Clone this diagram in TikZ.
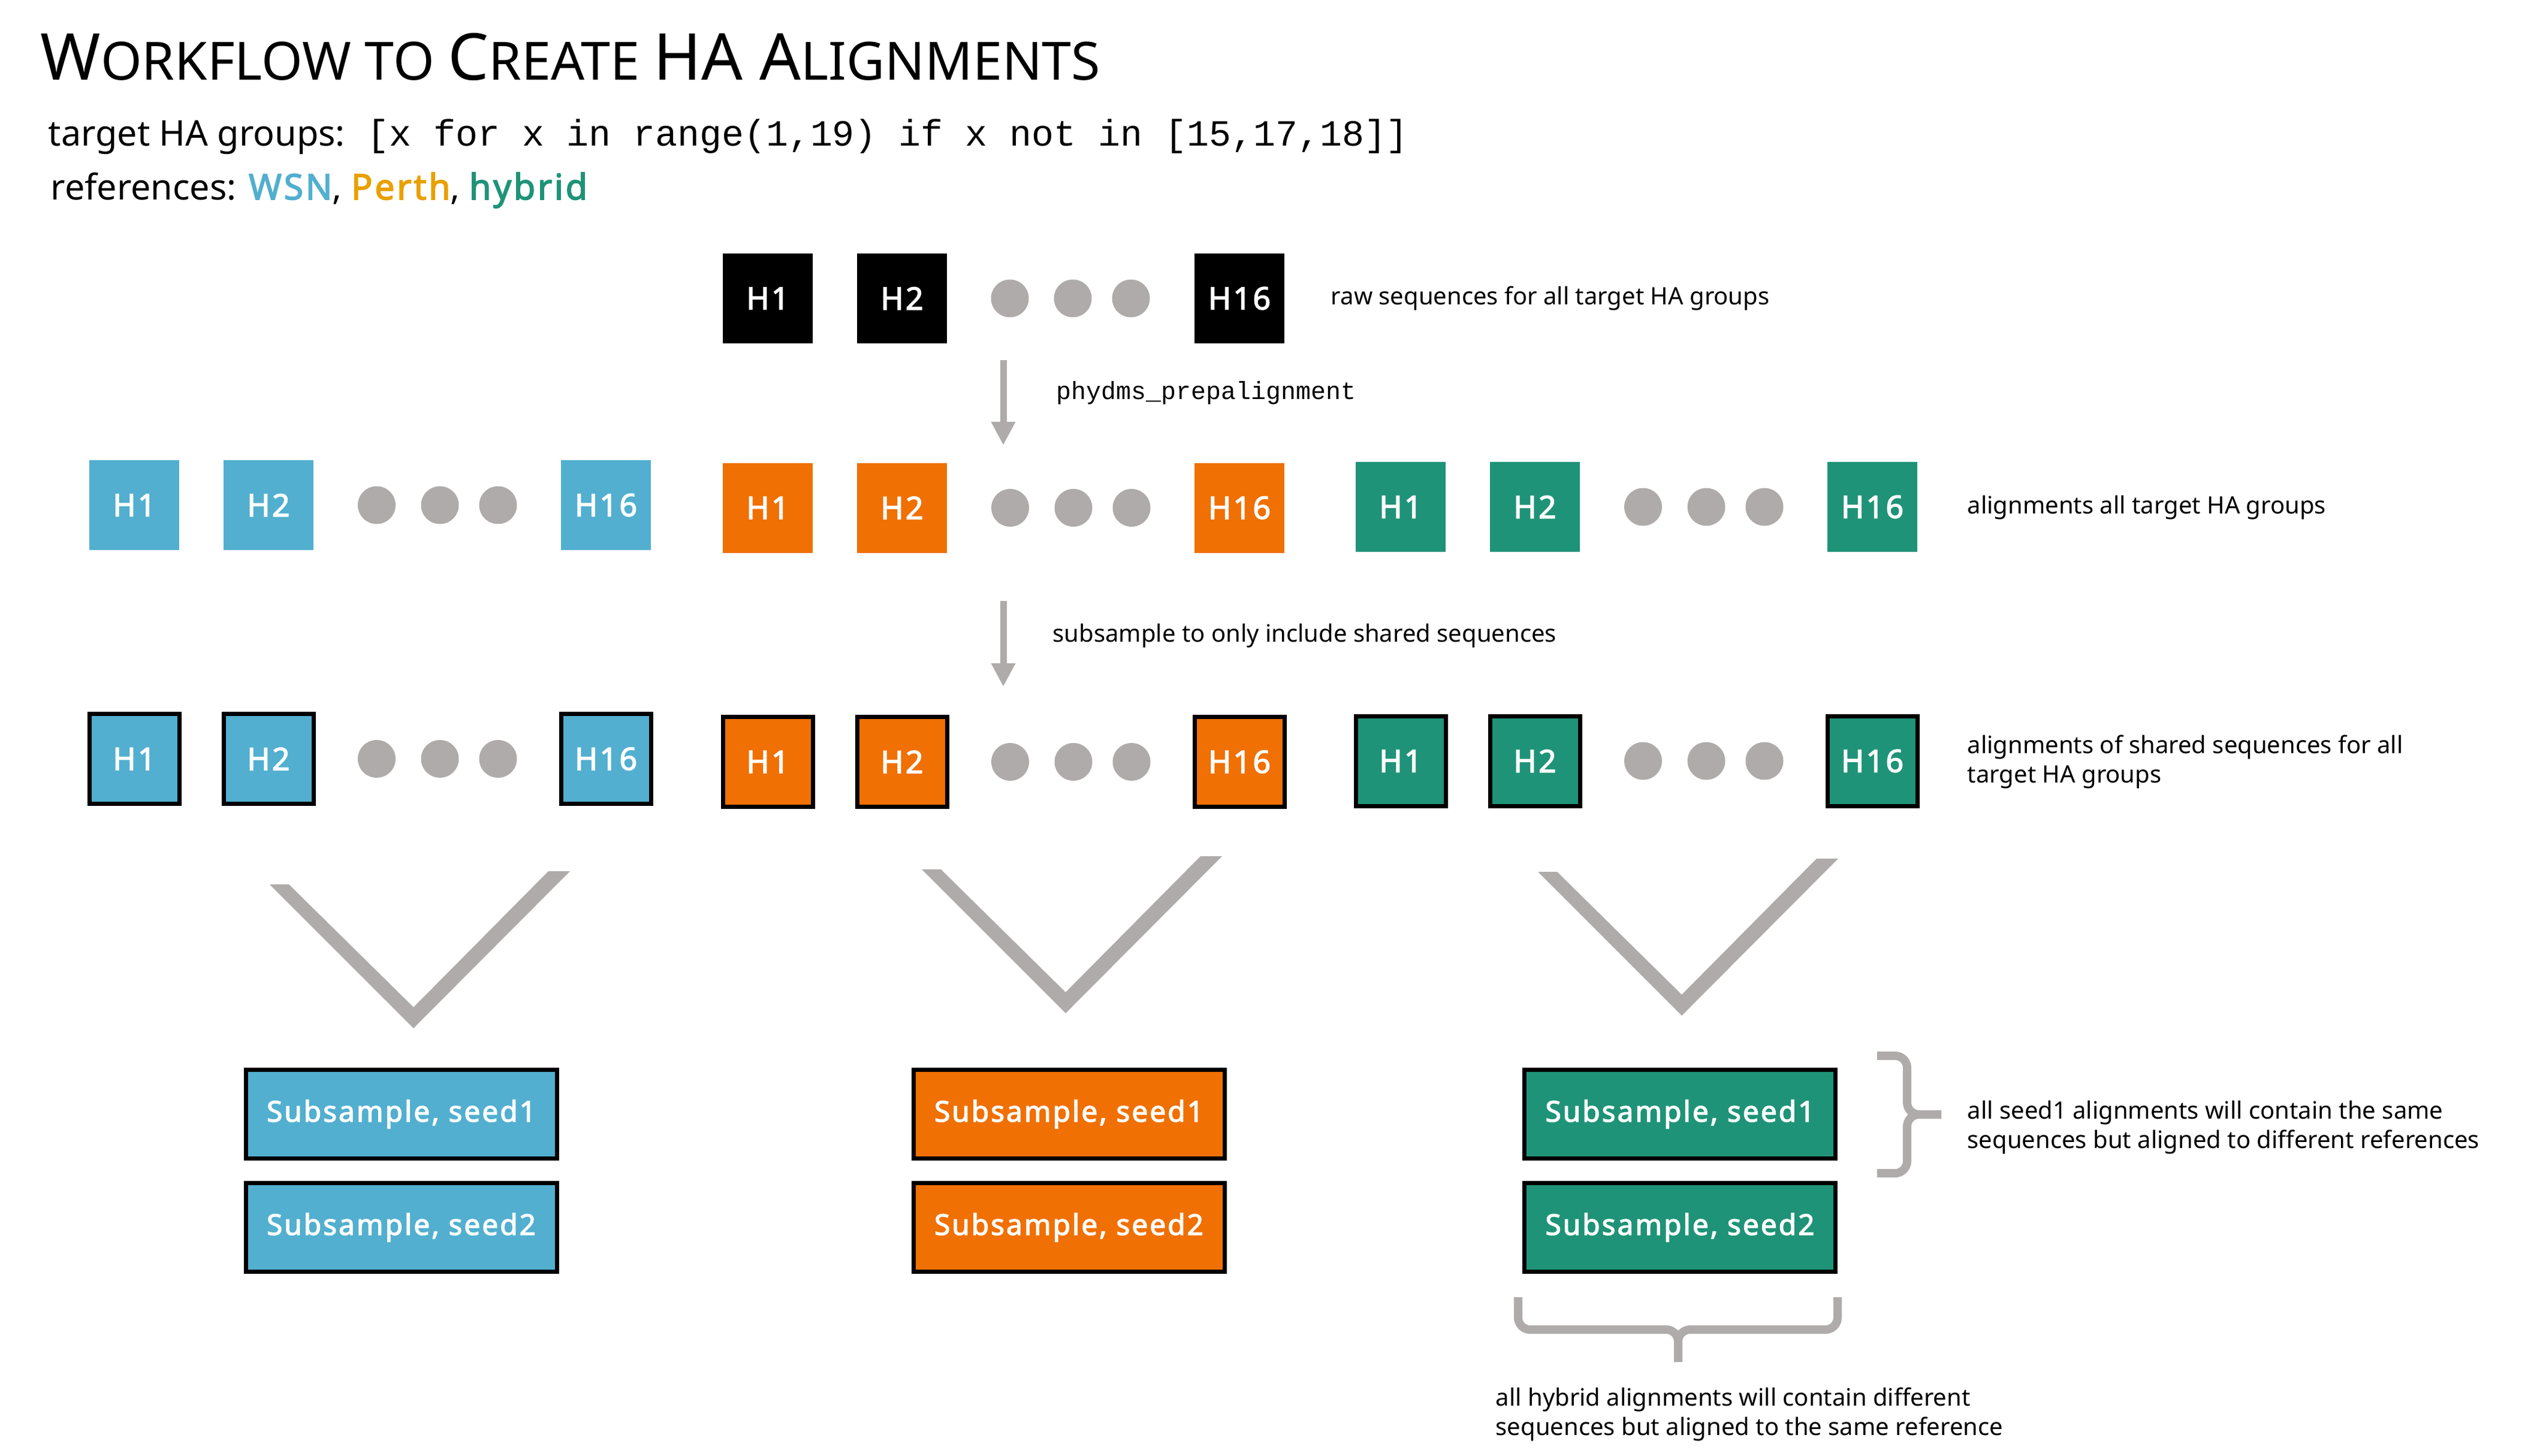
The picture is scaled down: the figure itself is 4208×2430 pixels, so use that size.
\documentclass[tikz,border=0pt]{standalone}
\usepackage{fontspec}
\setmainfont{Noto Sans}[BoldFont={Noto Sans}, BoldFeatures={FakeBold=2.6, LetterSpace=6}]
\setmonofont{Liberation Mono}
\usetikzlibrary{arrows.meta}

\definecolor{wsnblue}{HTML}{52AFCF}
\definecolor{perthorange}{HTML}{F07003}
\definecolor{perthtext}{HTML}{E9A000}
\definecolor{hybridgreen}{HTML}{1F9377}
\definecolor{flowgray}{HTML}{AEABAA}

\newcommand{\tcap}[1]{{\fontsize{27}{27}\selectfont #1}}

\tikzset{
  hbox/.style={minimum width=37.5pt, minimum height=37.5pt, inner sep=0pt, text=white,
    font=\fontsize{13}{13}\selectfont\bfseries},
  shared/.style={hbox, draw=black, line width=1.75pt},
  seedbox/.style={minimum width=129.75pt, minimum height=37pt, inner sep=0pt, draw=black,
    line width=1.75pt, text=white, font=\fontsize{12}{12}\selectfont\bfseries},
  seqdot/.style={circle, fill=flowgray, minimum size=15.75pt, inner sep=0pt},
  note/.style={anchor=west, inner sep=0pt, align=left, font=\fontsize{10}{12.25}\selectfont},
  flow/.style={draw=flowgray, line width=2.75pt, -{Triangle[length=9.75pt,width=9.5pt]}},
  brace/.style={draw=flowgray, line width=3.5pt, rounded corners=5pt},
}

\begin{document}
\begin{tikzpicture}[x=0.25pt, y=-0.25pt]
  \useasboundingbox (0,0) rectangle (4208,2430);

  \node[anchor=base west, inner sep=0pt, font=\fontsize{22}{22}\selectfont] (title) at (67,133)
    {\tcap{W}ORKFLOW TO \tcap{C}REATE \tcap{HA A}LIGNMENTS};
  \node[anchor=base west, inner sep=0pt, font=\fontsize{14.8}{14.8}\selectfont] (targets) at (80,243) {target HA groups:};
  \node[anchor=base west, inner sep=0pt, font=\fontsize{15.4}{15.4}\selectfont\ttfamily] (targetcode) at (612,243)
    {[x for x in range(1,19) if x not in [15,17,18]]};
  \node[anchor=base west, inner sep=0pt, font=\fontsize{14.8}{14.8}\selectfont] (refs) at (84,333)
    {references: \textbf{\textcolor{wsnblue}{WSN}}, \textbf{\textcolor{perthtext}{Perth}}, \textbf{\textcolor{hybridgreen}{hybrid}}};

  \foreach \lab/\x in {1/1281, 2/1505, 16/2068}
    \node[hbox, fill=black] (raw\lab) at (\x,498) {H\lab};
  \foreach \i/\x in {1/1685, 2/1790, 3/1887}
    \node[seqdot] (rawdot\i) at (\x,498) {};
  \node[note] (rawnote) at (2220,498) {raw sequences for all target HA groups};

  \coordinate (prepTop) at (1674,601);
  \coordinate (prepEnd) at (1674,743);
  \draw[flow] (prepTop) -- (prepEnd);
  \node[anchor=west, inner sep=0pt, font=\fontsize{10.4}{10.4}\selectfont\ttfamily] (prepnote) at (1762,656) {phydms\_prepalignment};

  \foreach \grp/\col/\dx/\ya/\yb in {wsn/wsnblue/0/843/1266.5, perth/perthorange/1057/847.5/1271.5, hybrid/hybridgreen/2113/846/1270} {
    \foreach \lab/\off in {1/224, 2/448, 16/1011} {
      \node[hbox, fill=\col] (aln-\grp-\lab) at (\dx+\off,\ya) {H\lab};
      \node[shared, fill=\col] (shr-\grp-\lab) at (\dx+\off,\yb) {H\lab};
    }
    \foreach \i/\off in {1/628.5, 2/734, 3/831} {
      \node[seqdot] (alndot-\grp-\i) at (\dx+\off,\ya) {};
      \node[seqdot] (shrdot-\grp-\i) at (\dx+\off,\yb) {};
    }
  }
  \node[note] (alnnote) at (3282,847) {alignments all target HA groups};
  \node[note] (shrnote) at (3282,1271) {alignments of shared sequences for all\\target HA groups};

  \coordinate (subTop) at (1674,1003);
  \coordinate (subEnd) at (1674,1146);
  \draw[flow] (subTop) -- (subEnd);
  \node[note] (subnote) at (1756,1061) {subsample to only include shared sequences};

  \foreach \tx/\ty in {690/1716, 1778/1691, 2806/1695}
    \fill[flowgray] (\tx-240,\ty-240) -- (\tx-208,\ty-240) -- (\tx,\ty-35) -- (\tx+225,\ty-262)
      -- (\tx+261,\ty-262) -- (\tx,\ty) -- cycle;

  \foreach \grp/\col/\x in {wsn/wsnblue/669.5, perth/perthorange/1783.5, hybrid/hybridgreen/2803} {
    \node[seedbox, fill=\col] (seed1-\grp) at (\x,1859.5) {Subsample, seed1};
    \node[seedbox, fill=\col] (seed2-\grp) at (\x,2048.5) {Subsample, seed2};
  }

  \draw[brace] (3132,1762) -- (3182,1762) -- (3182,1860) -- (3239,1860);
  \draw[brace] (3132,1958) -- (3182,1958) -- (3182,1860) -- (3239,1860);
  \node[note] (seednote) at (3282,1882) {all seed1 alignments will contain the same\\sequences but aligned to different references};

  \draw[brace] (2533,2165) -- (2533,2219) -- (2800,2219) -- (2800,2273);
  \draw[brace] (3066,2165) -- (3066,2219) -- (2800,2219) -- (2800,2273);
  \node[note] (samenote) at (2495,2360) {all hybrid alignments will contain different\\sequences but aligned to the same reference};
\end{tikzpicture}
\end{document}
